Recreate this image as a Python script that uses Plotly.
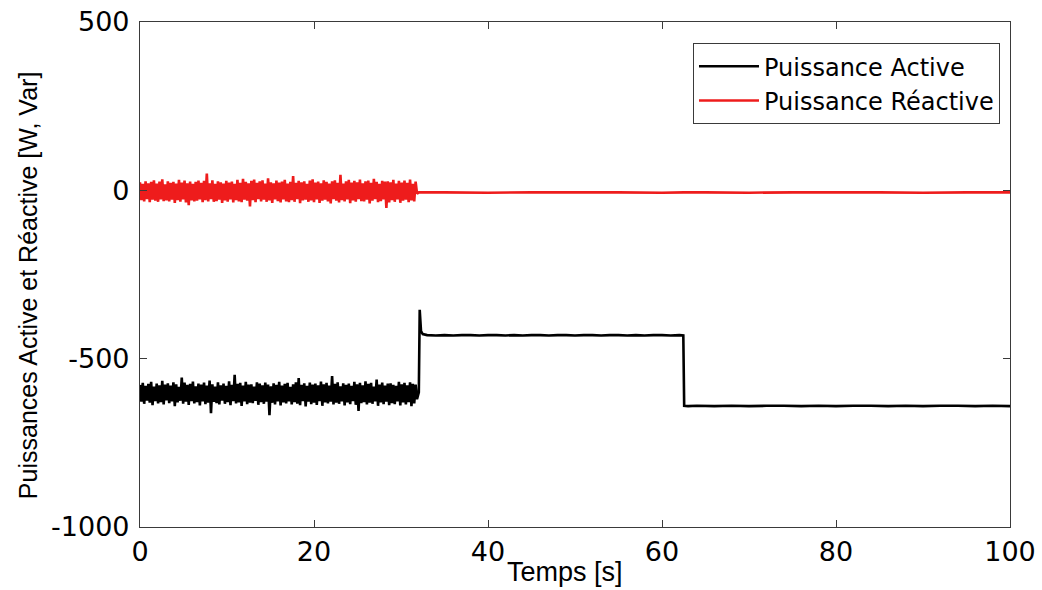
import plotly.graph_objects as go

# ---- Data ----
dt = 0.16  # sampling step of the noisy first interval [s]

active_noisy = [
    -578,-628,-572,-634,-581,-625,-575,-631,-569,-638,-583,-626,-574,-633,-579,-629,-566,-636,-577,-624,
    -573,-632,-580,-627,-570,-641,-576,-630,-584,-625,-556,-634,-571,-628,-578,-637,-575,-626,-568,-633,
    -582,-629,-574,-639,-577,-627,-571,-635,-580,-631,-565,-662,-576,-628,-583,-632,-570,-636,-579,-625,
    -574,-634,-581,-629,-567,-638,-578,-626,-548,-633,-575,-630,-572,-640,-580,-627,-569,-635,-577,-631,
    -576,-632,-583,-625,-570,-637,-574,-629,-579,-634,-571,-628,-577,-668,-582,-631,-573,-636,-578,-627,
    -569,-639,-580,-630,-575,-633,-572,-627,-584,-636,-576,-629,-570,-634,-558,-638,-578,-626,-573,-642,
    -581,-628,-571,-635,-577,-631,-574,-637,-579,-626,-568,-640,-576,-630,-572,-633,-580,-628,-552,-636,
    -575,-631,-570,-634,-582,-627,-573,-639,-578,-630,-574,-635,-581,-626,-569,-637,-576,-655,-572,-632,
    -579,-629,-567,-636,-575,-631,-572,-634,-583,-627,-562,-640,-577,-630,-571,-635,-580,-628,-574,-638,
    -573,-632,-578,-635,-581,-627,-569,-639,-576,-630,-572,-636,-579,-629,-570,-641,-575,-633,-577,-620,
]

reactive_noisy = [
    24,-29,19,-33,27,-26,21,-35,25,-28,30,-31,20,-34,26,-27,33,-32,18,-30,
    27,-33,22,-28,25,-37,20,-29,31,-34,23,-27,29,-36,21,-44,26,-30,19,-33,
    25,-31,29,-27,22,-35,28,-29,50,-33,21,-26,30,-34,19,-32,27,-28,24,-37,
    20,-30,28,-34,23,-27,26,-36,19,-29,31,-33,22,-35,34,-28,25,-31,21,-48,
    28,-29,32,-35,22,-26,27,-33,30,-28,20,-34,36,-30,24,-37,21,-27,29,-32,
    23,-36,26,-27,31,-33,20,-35,25,-29,42,-34,22,-26,28,-38,24,-30,27,-28,
    19,-34,29,-30,33,-35,23,-27,26,-37,21,-31,30,-28,25,-33,20,-39,27,-26,
    30,-31,22,-36,46,-29,20,-33,27,-27,31,-38,23,-30,28,-34,24,-26,32,-32,
    21,-33,27,-28,29,-39,22,-31,34,-26,25,-35,19,-32,28,-27,26,-52,27,-36,
    24,-29,31,-34,20,-27,28,-37,23,-31,29,-28,22,-35,32,-30,19,-33,26,-10,
]

# second interval: step up to ~-430 W (with overshoot), then step down to ~-640 W
t_step = [32.05, 32.15, 32.3, 32.5, 33, 34, 35, 36, 37, 38, 39, 40, 41, 42, 43, 44, 45,
          46, 47, 48, 49, 50, 51, 52, 53, 54, 55, 56, 57, 58, 59, 60, 61, 62, 62.45]
active_step = [-600, -355, -418, -427, -430, -431, -430, -431, -430, -430, -431, -430, -430, -431,
               -430, -431, -430, -430, -431, -430, -430, -431, -430, -430, -431, -430, -430,
               -431, -430, -431, -430, -430, -431, -430, -431]
t_low = [62.55, 63, 64, 66, 68, 70, 72, 74, 76, 78, 80, 82, 84, 86, 88, 90, 92, 94, 96, 98, 100]
active_low = [-640, -641, -640, -641, -640, -641, -640, -640, -641, -640, -641, -640, -640,
              -641, -640, -641, -640, -640, -641, -640, -641]

t_react_after = [32.05, 35, 40, 45, 50, 55, 60, 62.5, 65, 70, 75, 80, 85, 90, 95, 100]
reactive_after = [-6, -6, -7, -6, -6, -6, -7, -6, -6, -7, -6, -6, -6, -7, -6, -6]

# tick labels
x_ticks = [0, 20, 40, 60, 80, 100]
y_ticks = [-1000, -500, 0, 500]
y_tick_text = ["-1000", "-500", "0", "500"]

x_title = "Temps [s]"
y_title = "Puissances Active et Réactive [W, Var]"

# ---- Build series ----
t_noisy = [i * dt for i in range(len(active_noisy))]
t_active = t_noisy + t_step + t_low
y_active = active_noisy + active_step + active_low
t_reactive = t_noisy + t_react_after
y_reactive = reactive_noisy + reactive_after

fig = go.Figure()
fig.add_trace(go.Scatter(x=t_active, y=y_active, mode="lines", name="Puissance Active",
                         line=dict(color="black", width=2.6, simplify=False)))
fig.add_trace(go.Scatter(x=t_reactive, y=y_reactive, mode="lines", name="Puissance Réactive",
                         line=dict(color="#ee1c1c", width=2.6, simplify=False)))

axis_common = dict(showline=True, linecolor="#3a3a3a", linewidth=1.2, mirror="ticks",
                   ticks="inside", ticklen=7, tickcolor="#3a3a3a", showgrid=False, zeroline=False,
                   automargin=False, ticklabeloverflow="allow",
                   tickfont=dict(family="DejaVu Sans, sans-serif", size=27, color="black"))

title_font = dict(family="Liberation Sans, Arial, sans-serif", size=25, color="black")

fig.update_layout(
    width=1042, height=590,
    margin=dict(l=140, r=32, t=22, b=63),
    paper_bgcolor="white", plot_bgcolor="white",
    xaxis=dict(range=[0, 100], tickvals=x_ticks, ticktext=[str(v) for v in x_ticks],
               **axis_common),
    yaxis=dict(range=[-1000, 500], tickvals=y_ticks, ticktext=y_tick_text, ticklabelstandoff=4,
               **axis_common),
    legend=dict(x=0.9885, y=0.958, xanchor="right", yanchor="top",
                bgcolor="white", bordercolor="#3a3a3a", borderwidth=1,
                font=dict(family="DejaVu Sans, sans-serif", size=24, color="black"),
                tracegroupgap=0, itemwidth=60),
    showlegend=True,
    annotations=[
        dict(text=x_title, xref="paper", yref="paper", x=0.4885, y=-0.089,
             xanchor="center", yanchor="middle", showarrow=False,
             font=dict(family="Liberation Sans, Arial, sans-serif", size=27, color="black")),
        dict(text=y_title, xref="paper", yref="paper", x=-0.1287, y=0.479, textangle=-90,
             xanchor="center", yanchor="middle", showarrow=False, font=title_font),
    ],
)

fig.write_html("out.html", config={"displayModeBar": False},
               post_script="document.body.style.margin='0';document.body.style.overflow='hidden';")
